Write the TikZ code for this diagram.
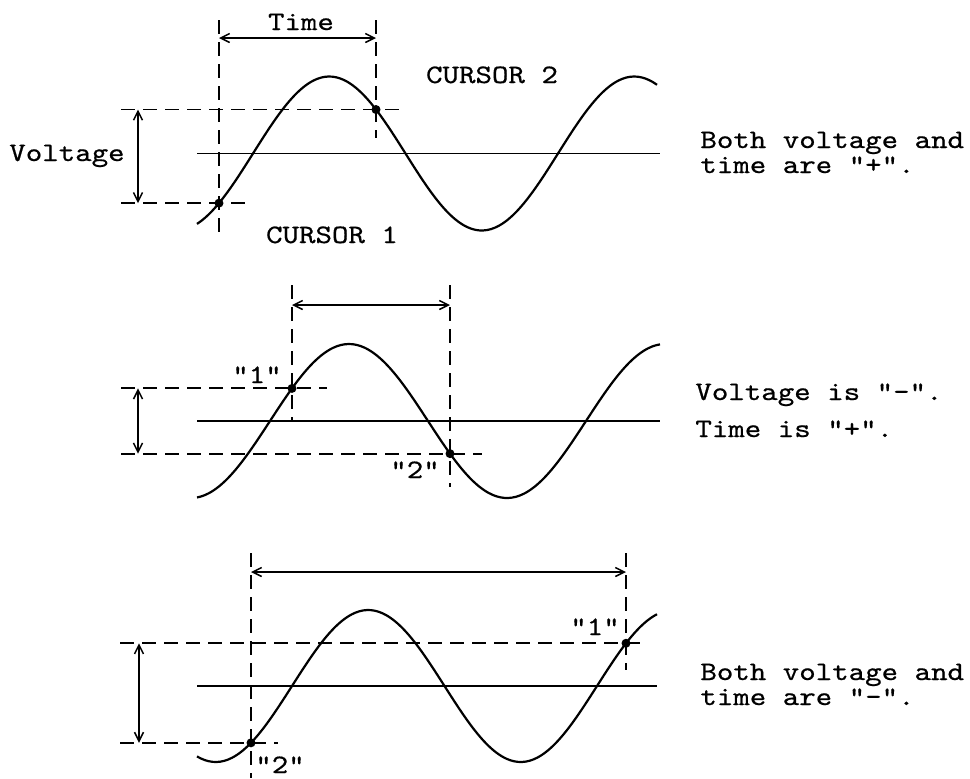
\documentclass[tikz,border=0pt]{standalone}
\usepackage{fontspec}
\newfontfamily\typewr{lmmono10-regular.otf}[FakeStretch=1.18,FakeBold=0.6]
\usetikzlibrary{arrows.meta}

\begin{document}
\begin{tikzpicture}[x=0.5pt,y=-0.5pt,
  declare function={
    wa(\t)=153.5-77*sin((\t-253)/305*360);
    wb(\t)=421-77*sin((\t-270)/316*360);
    wc(\t)=686-76*sin((\t-292)/305*360);
  },
  wave/.style={line width=1.1pt},
  axis/.style={line width=0.8pt},
  cursor/.style={line width=0.95pt,dash pattern=on 7pt off 4pt},
  span/.style={line width=0.75pt,{Straight Barb[length=4.5pt,width=4.5pt]}-{Straight Barb[length=4.5pt,width=4.5pt]}},
  dot/.style={circle,fill,inner sep=0pt,minimum size=4.5pt},
  lbl/.style={font=\typewr\fontsize{13.3}{16}\selectfont,inner sep=0pt,anchor=base}]
\path[use as bounding box] (0,0) rectangle (970,778);

\draw[wave] plot[domain=197:657,samples=120,smooth] (\x,{wa(\x)});
\draw[axis] (197,153.5) -- (660,153.5);
\node[dot] (a1) at (219,{wa(219)}) {};
\node[dot] (a2) at (376,{wa(376)}) {};
\draw[cursor] (a1 |- 0,20) -- (a1 |- 0,233);
\draw[cursor] (a2 |- 0,20) -- (a2 |- 0,138);
\draw[cursor] (a2 -| 121,0) -- (a2 -| 403,0);
\draw[cursor] (a1 -| 121,0) -- (a1 -| 250,0);
\draw[span] (a1 |- 0,38) -- (a2 |- 0,38);
\draw[span] (a2 -| 138,0) -- (a1 -| 138,0);
\node[lbl] (time) at (301,30) {Time};
\node[lbl] (volt) at (67,161) {Voltage};
\node[lbl] (cur1) at (332,243) {CURSOR 1};
\node[lbl] (cur2) at (492,83) {CURSOR 2};
\node[lbl,anchor=base west] (texta) at (700,148) {Both voltage and};
\node[lbl,anchor=base west] (textb) at (700,173) {time are "+".};

\draw[wave] plot[domain=197:660,samples=120,smooth] (\x,{wb(\x)});
\draw[axis] (197,421) -- (660,421);
\node[dot] (b1) at (292,{wb(292)}) {};
\node[dot] (b2) at (450,{wb(450)}) {};
\draw[cursor] (b1 |- 0,285) -- (b1 |- 0,420);
\draw[cursor] (b2 |- 0,285) -- (b2 |- 0,487);
\draw[cursor] (b1 -| 121,0) -- (b1 -| 327,0);
\draw[cursor] (b2 -| 121,0) -- (b2 -| 482,0);
\draw[span] (b1 |- 0,305) -- (b2 |- 0,305);
\draw[span] (b1 -| 138,0) -- (b2 -| 138,0);
\node[lbl] (markb1) at (257,383) {"1"};
\node[lbl] (markb2) at (415,478) {"2"};
\node[lbl,anchor=base west] (textc) at (695,400) {Voltage is "-".};
\node[lbl,anchor=base west] (textd) at (695,437) {Time is "+".};

\draw[wave] plot[domain=197:657,samples=120,smooth] (\x,{wc(\x)});
\draw[axis] (197,686) -- (657,686);
\node[dot] (c1) at (626,{wc(626)}) {};
\node[dot] (c2) at (251,{wc(251)}) {};
\draw[cursor] (c2 |- 0,553) -- (c2 |- 0,778);
\draw[cursor] (c1 |- 0,553) -- (c1 |- 0,670);
\draw[cursor] (c1 -| 120,0) -- (c1 -| 642,0);
\draw[cursor] (c2 -| 120,0) -- (c2 -| 278,0);
\draw[span] (c2 |- 0,572) -- (c1 |- 0,572);
\draw[span] (c1 -| 139,0) -- (c2 -| 139,0);
\node[lbl] (markc1) at (595,635) {"1"};
\node[lbl] (markc2) at (280,773) {"2"};
\node[lbl,anchor=base west] (texte) at (700,680) {Both voltage and};
\node[lbl,anchor=base west] (textf) at (700,705) {time are "-".};
\end{tikzpicture}
\end{document}
